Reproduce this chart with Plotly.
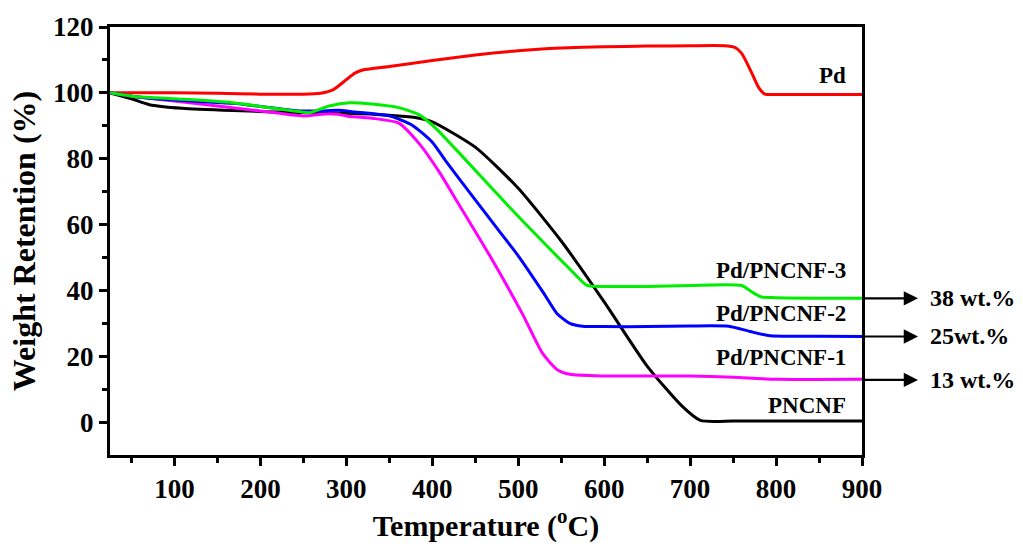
import plotly.graph_objects as go

temp_pd = [25, 100, 150, 200, 250, 270, 285, 300, 310, 320, 350, 400, 450, 500, 550, 600, 650, 700, 740, 752, 760, 770, 780, 787, 800, 850, 900]
wt_pd = [100, 100, 99.9, 99.6, 99.6, 99.9, 101, 104, 106, 107, 108, 109.8, 111.5, 112.8, 113.6, 114, 114.2, 114.3, 114.3, 113.8, 112, 107, 101.5, 99.6, 99.5, 99.5, 99.5]

temp_pncnf = [25, 50, 71, 109, 168, 245, 300, 350, 380, 400, 450, 500, 550, 600, 650, 690, 712, 750, 800, 900]
wt_pncnf = [100, 98.2, 96.4, 95.3, 94.6, 94, 93.8, 93.2, 92.5, 91.2, 83.5, 71, 55, 36.5, 17, 5, 0.5, 0.3, 0.3, 0.3]

temp_p3 = [25, 50, 100, 168, 245, 258, 280, 304, 330, 361, 385, 405, 435, 493, 560, 580, 600, 650, 700, 760, 772, 783, 800, 900]
wt_p3 = [100, 99, 98.2, 97, 94.3, 94, 96, 97, 96.6, 95.5, 93.3, 89, 80.7, 64.4, 46.5, 41.5, 41.2, 41.2, 41.5, 41.5, 39.5, 38, 37.8, 37.6]

temp_p2 = [25, 50, 100, 168, 245, 270, 290, 310, 350, 377, 400, 416, 450, 475, 500, 530, 545, 560, 575, 600, 650, 700, 745, 770, 793, 850, 900]
wt_p2 = [100, 99, 97.8, 96.8, 94.5, 94.5, 94.7, 94.2, 93, 90.1, 85, 79.2, 67.5, 59, 50.5, 39, 33, 30, 29.1, 29, 29, 29.2, 29.1, 27.5, 26.2, 26.1, 26]

temp_p1 = [25, 50, 100, 150, 200, 250, 275, 290, 300, 330, 361, 385, 408, 428, 467, 505, 528, 545, 560, 600, 650, 700, 750, 800, 900]
wt_p1 = [100, 99, 97.5, 96, 94.5, 93, 93.6, 93.5, 93, 92.3, 90.8, 84.5, 76, 67.4, 50.5, 32.8, 21, 16, 14.5, 14, 14, 14, 13.6, 13, 13]

series = [
    ("Pd", temp_pd, wt_pd, "#ff0000"),
    ("PNCNF", temp_pncnf, wt_pncnf, "#000000"),
    ("Pd/PNCNF-1", temp_p1, wt_p1, "#ff00ff"),
    ("Pd/PNCNF-2", temp_p2, wt_p2, "#0000ff"),
    ("Pd/PNCNF-3", temp_p3, wt_p3, "#00ee00"),
]

label_names = ["Pd", "Pd/PNCNF-3", "Pd/PNCNF-2", "Pd/PNCNF-1", "PNCNF"]
label_y = [105.3, 45.9, 32.9, 19.6, 5.0]
residue_text = ["38 wt.%", "25wt.%", "13 wt.%"]
residue_y = [37.6, 26.0, 12.8]

FONT = "Liberation Serif"

fig = go.Figure()
for name, t, w, c in series:
    fig.add_trace(go.Scatter(x=t, y=w, mode="lines", name=name,
                             line=dict(color=c, width=3, shape="spline", smoothing=0.6)))

annotations = []
for txt, yv in zip(label_names, label_y):
    annotations.append(dict(x=884, y=yv, xref="x", yref="y", text=txt, showarrow=False,
                            xanchor="right", yanchor="middle",
                            font=dict(family=FONT, size=23, color="black", weight="bold")))
for txt, yv in zip(residue_text, residue_y):
    annotations.append(dict(x=1.0745, y=yv, xref="paper", yref="y", ax=-56, ay=0,
                            text="", showarrow=True, arrowhead=2, arrowsize=1.3, arrowwidth=2.2,
                            arrowcolor="black"))
    annotations.append(dict(x=1.088, y=yv, xref="paper", yref="y", text=txt, showarrow=False,
                            xanchor="left", yanchor="middle",
                            font=dict(family=FONT, size=24, color="black", weight="bold")))

fig.update_layout(
    width=1023, height=549,
    margin=dict(l=110, r=161, t=22, b=88),
    paper_bgcolor="white", plot_bgcolor="white",
    showlegend=False,
    annotations=annotations,
    xaxis=dict(range=[25, 900], tickvals=[100, 200, 300, 400, 500, 600, 700, 800, 900],
               ticks="outside", ticklen=8, tickwidth=2.5, tickcolor="black",
               minor=dict(tickvals=[50, 150, 250, 350, 450, 550, 650, 750, 850], ticks="outside",
                          ticklen=5, tickwidth=2.5, tickcolor="black"),
               showline=True, linewidth=3, linecolor="black", mirror=True,
               showgrid=False, zeroline=False,
               tickfont=dict(family=FONT, size=27, color="black", weight="bold"),
               title=dict(text="Temperature (<sup>o</sup>C)", standoff=12,
                          font=dict(family=FONT, size=30, color="black", weight="bold"))),
    yaxis=dict(range=[-10, 120], tickvals=[0, 20, 40, 60, 80, 100, 120],
               ticks="outside", ticklen=8, tickwidth=2.5, tickcolor="black",
               minor=dict(tickvals=[10, 30, 50, 70, 90, 110], ticks="outside",
                          ticklen=5, tickwidth=2.5, tickcolor="black"),
               showline=True, linewidth=3, linecolor="black", mirror=True,
               showgrid=False, zeroline=False,
               tickfont=dict(family=FONT, size=27, color="black", weight="bold"),
               title=dict(text="Weight Retention (%)", standoff=8,
                          font=dict(family=FONT, size=32, color="black", weight="bold"))),
)

fig.write_html("out.html")
